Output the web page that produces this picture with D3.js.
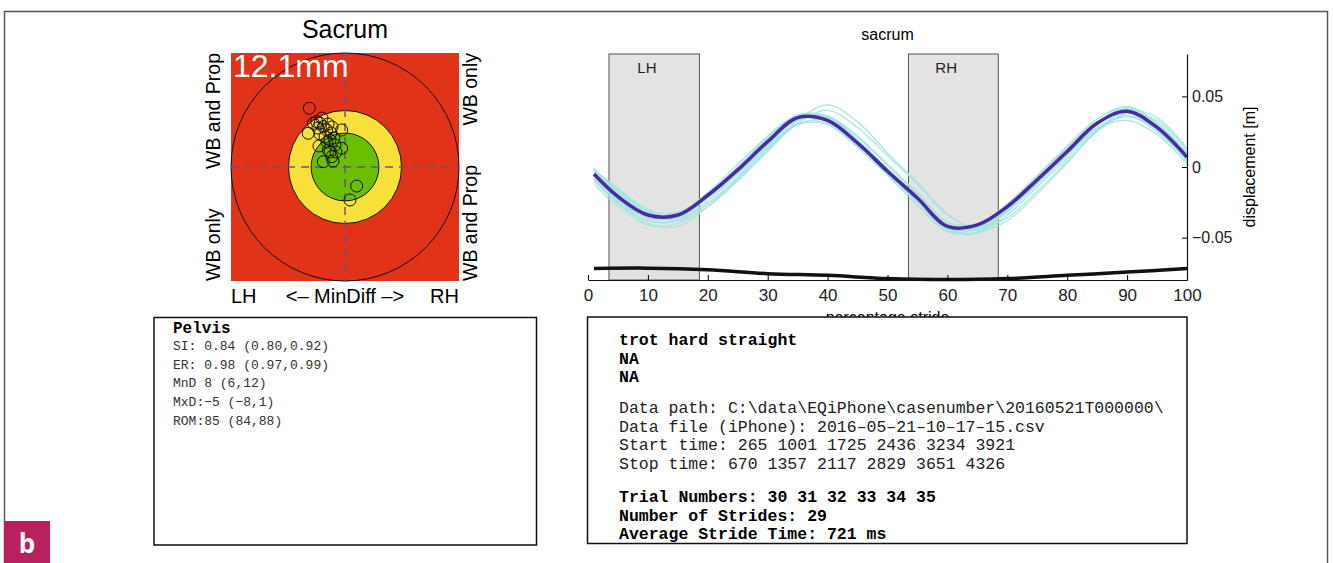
<!DOCTYPE html>
<html>
<head>
<meta charset="utf-8">
<script src="https://cdn.jsdelivr.net/npm/d3@7"></script>
<style>
body { margin: 0; background: #fff; }
svg text { font-family: "Liberation Sans", Arial, sans-serif; }
svg text.mono { font-family: "Liberation Mono", "Courier New", monospace; }
</style>
</head>
<body>
<div id="container"></div>
<script>
// target plot: rings (mm) and per-stride MinDiff / MaxDiff points
var ringRadii = [12.1, 6.0, 3.6];
var ringColors = ["#e1321a", "#f8e03b", "#6bbf00"];
var diffX = [-3.79, -3.36, -3.90, -3.00, -2.65, -2.30, -1.94, -2.87, -2.44, -1.80, -0.35, -1.59, -1.06, -1.77, -0.35,
             -2.30, -1.41, -1.59, -2.12, -1.49, -1.17, -2.76, -1.27, 1.24, 0.53, -1.91, -0.96, -2.65, -1.38];
var diffY = [6.23, 4.64, 3.58, 4.81, 4.64, 4.28, 3.93, 4.14, 5.20, 4.56, 3.93, 2.87, 2.34, 1.80, 1.98,
             0.56, 1.09, 1.59, 3.18, 3.61, 3.08, 2.23, 0.64, -2.02, -3.50, 2.65, 1.59, 3.50, 4.25];

// stride plot
var pct = [1, 5, 10, 15, 20, 25, 30, 35, 40, 45, 50, 55, 60, 65, 70, 75, 80, 85, 90, 95, 100];
var meanDisp = [-0.005, -0.021, -0.034, -0.034, -0.020, -0.002, 0.018, 0.035, 0.033, 0.017, -0.003,
                -0.022, -0.042, -0.041, -0.028, -0.009, 0.011, 0.031, 0.0395, 0.028, 0.007];
var trial1 = [-0.001, -0.017, -0.031, -0.032, -0.019, -0.001, 0.019, 0.035, 0.036, 0.022, 0.002, -0.018, -0.039, -0.040, -0.027, -0.007, 0.014, 0.034, 0.042, 0.031, 0.010];
var trial2 = [-0.009, -0.025, -0.038, -0.038, -0.024, -0.005, 0.015, 0.031, 0.031, 0.015, -0.005, -0.025, -0.045, -0.044, -0.031, -0.011, 0.009, 0.028, 0.036, 0.025, 0.004];
var trial3 = [-0.003, -0.016, -0.030, -0.036, -0.026, -0.009, 0.011, 0.031, 0.040, 0.028, 0.008, -0.012, -0.034, -0.043, -0.036, -0.017, 0.004, 0.025, 0.038, 0.033, 0.012];
var trial4 = [-0.012, -0.028, -0.041, -0.040, -0.026, -0.007, 0.014, 0.030, 0.030, 0.014, -0.006, -0.027, -0.046, -0.046, -0.032, -0.012, 0.008, 0.027, 0.033, 0.023, 0.002];
var trial5 = [-0.006, -0.022, -0.035, -0.036, -0.021, 0.000, 0.020, 0.037, 0.036, 0.019, -0.002, -0.022, -0.043, -0.043, -0.029, -0.009, 0.012, 0.032, 0.041, 0.029, 0.008];
var trial6 = [-0.002, -0.015, -0.031, -0.038, -0.028, -0.010, 0.012, 0.033, 0.044, 0.032, 0.010, -0.011, -0.033, -0.045, -0.038, -0.019, 0.003, 0.026, 0.040, 0.035, 0.013];
var trial7 = [-0.004, -0.019, -0.033, -0.035, -0.022, -0.003, 0.017, 0.034, 0.035, 0.019, -0.001, -0.021, -0.042, -0.043, -0.030, -0.010, 0.011, 0.031, 0.040, 0.030, 0.009];
var trial8 = [-0.008, -0.024, -0.036, -0.034, -0.019, 0.000, 0.021, 0.036, 0.034, 0.017, -0.004, -0.025, -0.044, -0.042, -0.027, -0.007, 0.013, 0.032, 0.038, 0.026, 0.005];
var trial9 = [-0.010, -0.026, -0.040, -0.042, -0.028, -0.008, 0.013, 0.030, 0.033, 0.018, -0.002, -0.023, -0.044, -0.047, -0.034, -0.014, 0.006, 0.026, 0.036, 0.027, 0.006];
var trial10 = [-0.003, -0.018, -0.032, -0.033, -0.018, 0.002, 0.022, 0.037, 0.034, 0.017, -0.004, -0.024, -0.042, -0.041, -0.026, -0.006, 0.015, 0.034, 0.043, 0.031, 0.009];
var trial11 = [-0.007, -0.023, -0.036, -0.035, -0.021, -0.002, 0.018, 0.034, 0.032, 0.016, -0.004, -0.024, -0.043, -0.042, -0.029, -0.009, 0.010, 0.030, 0.039, 0.028, 0.007];
var trial12 = [-0.005, -0.020, -0.033, -0.035, -0.022, -0.004, 0.016, 0.033, 0.035, 0.021, 0.001, -0.019, -0.040, -0.044, -0.031, -0.011, 0.010, 0.030, 0.041, 0.031, 0.010];
var trials = [trial1, trial2, trial3, trial4, trial5, trial6, trial7, trial8, trial9, trial10, trial11, trial12];

var loadPct = [1, 10, 20, 30, 40, 50, 60, 70, 80, 90, 100];
var loadLine = [-0.0719, -0.0716, -0.0727, -0.0755, -0.0767, -0.0790, -0.0797, -0.0790, -0.0767, -0.0744, -0.0719];

var phaseLabels = ["LH", "RH"];
var phaseStart = [3.5, 53.5];
var phaseEnd = [18.6, 68.5];

var xTicks = [0, 10, 20, 30, 40, 50, 60, 70, 80, 90, 100];
var yTicks = [-0.05, 0, 0.05];

var pelvisLines = ["SI: 0.84 (0.80,0.92)", "ER: 0.98 (0.97,0.99)", "MnD 8 (6,12)", "MxD:\u22125 (\u22128,1)", "ROM:85 (84,88)"];
var headerLines = ["trot hard straight", "NA", "NA"];
var fileLines = ["Data path: C:\\data\\EQiPhone\\casenumber\\20160521T000000\\",
                 "Data file (iPhone): 2016\u201305\u201321\u201310\u201317\u201315.csv",
                 "Start time: 265 1001 1725 2436 3234 3921",
                 "Stop time: 670 1357 2117 2829 3651 4326"];
var summaryLines = ["Trial Numbers: 30 31 32 33 34 35", "Number of Strides: 29", "Average Stride Time: 721 ms"];

var svg = d3.select("#container").append("svg")
            .attr("width", 1333)
            .attr("height", 563)
            .style("display", "block");

// outer frame (open at the bottom)
svg.append("path")
   .attr("d", "M4.5,563V11.5H1327.5V563")
   .attr("fill", "none")
   .attr("stroke", "#555")
   .attr("stroke-width", 1.5);

// ---------- target plot ----------
var tx = d3.scaleLinear().domain([-ringRadii[0], ringRadii[0]]).range([231, 459]);
var ty = d3.scaleLinear().domain([-ringRadii[0], ringRadii[0]]).range([281, 53]);
var pxPerMm = tx(1) - tx(0);

svg.append("rect")
   .attr("x", tx(-ringRadii[0])).attr("y", ty(ringRadii[0]))
   .attr("width", tx(ringRadii[0]) - tx(-ringRadii[0]))
   .attr("height", ty(-ringRadii[0]) - ty(ringRadii[0]))
   .attr("fill", ringColors[0]);

svg.selectAll("circle.ring")
   .data(ringRadii)
   .enter()
   .append("circle")
   .attr("class", "ring")
   .attr("cx", tx(0))
   .attr("cy", ty(0))
   .attr("r", function(d) { return d * pxPerMm; })
   .attr("fill", function(d, i) { return ringColors[i]; })
   .attr("stroke", "#111")
   .attr("stroke-width", 1);

svg.append("line")
   .attr("x1", tx(-ringRadii[0])).attr("x2", tx(ringRadii[0]))
   .attr("y1", ty(0)).attr("y2", ty(0))
   .attr("stroke", "#6e5282").attr("stroke-width", 1.5).attr("stroke-dasharray", "8,6");
svg.append("line")
   .attr("x1", tx(0)).attr("x2", tx(0))
   .attr("y1", ty(ringRadii[0])).attr("y2", ty(-ringRadii[0]))
   .attr("stroke", "#6e5282").attr("stroke-width", 1.5).attr("stroke-dasharray", "8,6");

svg.selectAll("circle.stride")
   .data(diffX)
   .enter()
   .append("circle")
   .attr("class", "stride")
   .attr("cx", function(d) { return tx(d); })
   .attr("cy", function(d, i) { return ty(diffY[i]); })
   .attr("r", 6)
   .attr("fill", "none")
   .attr("stroke", "#111")
   .attr("stroke-width", 1);

svg.append("text")
   .attr("x", 233).attr("y", 77)
   .attr("fill", "#fff")
   .style("font-size", "32px")
   .text(ringRadii[0] + "mm");

svg.append("text")
   .attr("x", tx(0)).attr("y", 38)
   .attr("text-anchor", "middle")
   .style("font-size", "25px")
   .text("Sacrum");

var sideText = [
  {t: "WB and Prop", x: 220, y: 53, a: "end"},
  {t: "WB only", x: 220, y: 281, a: "start"},
  {t: "WB only", x: 477, y: 53, a: "end"},
  {t: "WB and Prop", x: 477, y: 281, a: "start"}
];
svg.selectAll("text.side")
   .data(sideText)
   .enter()
   .append("text")
   .attr("class", "side")
   .attr("transform", function(d) { return "translate(" + d.x + "," + d.y + ") rotate(-90)"; })
   .attr("text-anchor", function(d) { return d.a; })
   .style("font-size", "19.5px")
   .text(function(d) { return d.t; });

svg.append("text").attr("x", 231).attr("y", 303).style("font-size", "20px").text("LH");
svg.append("text").attr("x", tx(0)).attr("y", 303).attr("text-anchor", "middle").style("font-size", "20px").text("<\u2013 MinDiff \u2013>");
svg.append("text").attr("x", 459).attr("y", 303).attr("text-anchor", "end").style("font-size", "20px").text("RH");

// ---------- stride plot ----------
var x = d3.scaleLinear().domain([0, 100]).range([588, 1187]);
var y = d3.scaleLinear().domain([-0.08, 0.08]).range([280, 54]);

svg.selectAll("rect.phase")
   .data(phaseLabels)
   .enter()
   .append("rect")
   .attr("class", "phase")
   .attr("x", function(d, i) { return x(phaseStart[i]); })
   .attr("y", y(0.08))
   .attr("width", function(d, i) { return x(phaseEnd[i]) - x(phaseStart[i]); })
   .attr("height", y(-0.08) - y(0.08))
   .attr("fill", "#e3e3e3")
   .attr("stroke", "#555")
   .attr("stroke-width", 1);

svg.selectAll("text.phase")
   .data(phaseLabels)
   .enter()
   .append("text")
   .attr("class", "phase")
   .attr("x", function(d, i) { return x(phaseStart[i] + 0.42 * (phaseEnd[i] - phaseStart[i])); })
   .attr("y", 73)
   .attr("text-anchor", "middle")
   .style("font-size", "15px")
   .attr("fill", "#222")
   .text(function(d) { return d; });

var line = d3.line()
             .x(function(d, i) { return x(pct[i]); })
             .y(function(d) { return y(d); })
             .curve(d3.curveCatmullRom);

svg.selectAll("path.trial")
   .data(trials)
   .enter()
   .append("path")
   .attr("class", "trial")
   .attr("d", line)
   .attr("fill", "none")
   .attr("stroke", "#a3e5e1")
   .attr("stroke-width", 1.2);

svg.append("path")
   .attr("d", line(meanDisp))
   .attr("fill", "none")
   .attr("stroke", "#4a2aa3")
   .attr("stroke-width", 3.5);

svg.append("path")
   .attr("d", d3.line()
                .x(function(d, i) { return x(loadPct[i]); })
                .y(function(d) { return y(d); })
                .curve(d3.curveCatmullRom)(loadLine))
   .attr("fill", "none")
   .attr("stroke", "#111")
   .attr("stroke-width", 3.5);

var xAxis = svg.append("g")
   .attr("transform", "translate(0," + y(-0.08) + ")")
   .call(d3.axisBottom(x).tickValues(xTicks).tickSizeInner(-5).tickSizeOuter(0).tickPadding(9));
xAxis.selectAll("text").style("font-size", "17px").attr("fill", "#222");

var yAxis = svg.append("g")
   .attr("transform", "translate(" + x(100) + ",0)")
   .call(d3.axisRight(y).tickValues(yTicks).tickSizeInner(-5).tickSizeOuter(0).tickPadding(5)
          .tickFormat(function(d) { return d === 0 ? "0" : d3.format(".2f")(d); }));
yAxis.selectAll("text").style("font-size", "16px").attr("fill", "#222");
svg.selectAll(".domain").attr("stroke", "#111").attr("stroke-width", 1.2);

svg.append("text")
   .attr("x", x(50)).attr("y", 40)
   .attr("text-anchor", "middle")
   .style("font-size", "16px")
   .text("sacrum");

svg.append("text")
   .attr("transform", "translate(1255," + y(0) + ") rotate(-90)")
   .attr("text-anchor", "middle")
   .style("font-size", "16px")
   .text("displacement [m]");

svg.append("text")
   .attr("x", x(50)).attr("y", 323)
   .attr("text-anchor", "middle")
   .style("font-size", "16px")
   .text("percentage stride");

// ---------- text boxes ----------
svg.append("rect")
   .attr("x", 154).attr("y", 317.5).attr("width", 382.5).attr("height", 227.5)
   .attr("fill", "#fff").attr("stroke", "#111").attr("stroke-width", 1.5);

svg.append("text").attr("class", "mono")
   .attr("x", 173).attr("y", 333)
   .style("font-size", "16px").style("font-weight", "bold")
   .text("Pelvis");

svg.selectAll("text.pelvis")
   .data(pelvisLines)
   .enter()
   .append("text")
   .attr("class", "mono pelvis")
   .attr("x", 173)
   .attr("y", function(d, i) { return 350 + i * 18.7; })
   .attr("fill", "#333")
   .style("font-size", "13px")
   .text(function(d) { return d; });

svg.append("rect")
   .attr("x", 587.5).attr("y", 317).attr("width", 599.5).attr("height", 226.5)
   .attr("fill", "#fff").attr("stroke", "#111").attr("stroke-width", 1.5);

svg.selectAll("text.head")
   .data(headerLines)
   .enter()
   .append("text")
   .attr("class", "mono head")
   .attr("x", 619)
   .attr("y", function(d, i) { return 345 + i * 18.5; })
   .style("font-size", "16.5px").style("font-weight", "bold")
   .text(function(d) { return d; });

svg.selectAll("text.file")
   .data(fileLines)
   .enter()
   .append("text")
   .attr("class", "mono file")
   .attr("x", 619)
   .attr("y", function(d, i) { return 413 + i * 18.5; })
   .attr("fill", "#222")
   .style("font-size", "16.5px")
   .text(function(d) { return d; });

svg.selectAll("text.summary")
   .data(summaryLines)
   .enter()
   .append("text")
   .attr("class", "mono summary")
   .attr("x", 619)
   .attr("y", function(d, i) { return 502 + i * 18.5; })
   .style("font-size", "16.5px").style("font-weight", "bold")
   .text(function(d) { return d; });

// panel badge
svg.append("rect")
   .attr("x", 4).attr("y", 521).attr("width", 46).attr("height", 42)
   .attr("fill", "#b8215f");
svg.append("text")
   .attr("x", 27).attr("y", 553)
   .attr("text-anchor", "middle")
   .attr("fill", "#fff")
   .style("font-family", "'Open Sans', sans-serif")
   .style("font-weight", "bold")
   .style("font-size", "26px")
   .text("b");
</script>
</body>
</html>
